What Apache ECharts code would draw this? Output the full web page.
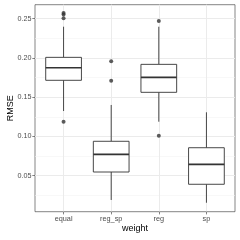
<!DOCTYPE html>
<html><head><meta charset="utf-8">
<script src="https://cdn.jsdelivr.net/npm/echarts@6/dist/echarts.min.js"></script>
<style>html,body{margin:0;padding:0;background:#fff}#c{width:240px;height:240px}</style>
</head><body><div id="c"></div>
<script>
const categories = ['equal', 'reg_sp', 'reg', 'sp'];
// [lower whisker, Q1, median, Q3, upper whisker]
const boxEqual = [0.1323, 0.1714, 0.1874, 0.2006, 0.2396];
const boxRegSp = [0.0191, 0.0547, 0.0772, 0.0938, 0.1400];
const boxReg   = [0.1187, 0.1561, 0.1752, 0.1917, 0.2396];
const boxSp    = [0.0156, 0.0391, 0.0645, 0.0856, 0.1307];
const outEqual = [0.2570, 0.2550, 0.2503, 0.1187];
const outRegSp = [0.1955, 0.1709];
const outReg   = [0.2468, 0.1009];
const outSp    = [];
const yMajorTicks = [0.05, 0.10, 0.15, 0.20, 0.25];
const yMinorTicks = [0.025, 0.075, 0.125, 0.175, 0.225];
const yRange = [0.0042, 0.2676];

const boxes = [boxEqual, boxRegSp, boxReg, boxSp];
const outs = [outEqual, outRegSp, outReg, outSp];
const boxData = boxes.map((b, i) => [i].concat(b));
const outData = [];
outs.forEach((o, i) => o.forEach(v => outData.push([i, v])));

const font = 'Liberation Sans, Arial, sans-serif';
const chart = echarts.init(document.getElementById('c'), null, {renderer: 'canvas'});
chart.setOption({
  animation: false,
  backgroundColor: '#fff',
  grid: {left: 35, right: 5, top: 4.7, bottom: 28.3, show: true, borderColor: '#333333', borderWidth: 0.6, backgroundColor: '#fff', containLabel: false, outerBoundsMode: 'none'},
  xAxis: {
    type: 'value', min: -0.6, max: 3.6,
    name: 'weight', nameLocation: 'middle', nameGap: 12, nameMoveOverlap: false,
    nameTextStyle: {color: '#000', fontSize: 9, fontFamily: font},
    axisLine: {show: false, onZero: false},
    axisTick: {show: true, customValues: [0, 1, 2, 3], length: 2.7, lineStyle: {color: '#333', width: 0.6}},
    axisLabel: {customValues: [0, 1, 2, 3], formatter: v => categories[Math.round(v)], color: '#4d4d4d', fontSize: 7.3, fontFamily: font, margin: 4},
    splitLine: {show: true, lineStyle: {color: '#ebebeb', width: 1}}
  },
  yAxis: [{
    type: 'value', min: yRange[0], max: yRange[1],
    name: 'RMSE', nameLocation: 'middle', nameGap: 20, nameRotate: 90, nameMoveOverlap: false,
    nameTextStyle: {color: '#000', fontSize: 9, fontFamily: font},
    axisLine: {show: false, onZero: false},
    axisTick: {show: true, customValues: yMajorTicks, length: 2.7, lineStyle: {color: '#333', width: 0.6}},
    axisLabel: {customValues: yMajorTicks, formatter: v => v.toFixed(2), color: '#4d4d4d', fontSize: 7.2, fontFamily: font, margin: 3.5},
    splitLine: {show: true, lineStyle: {color: '#ebebeb', width: 1}}
  }, {
    type: 'value', min: yRange[0], max: yRange[1], position: 'left',
    axisLine: {show: false, onZero: false},
    axisTick: {show: false, customValues: yMinorTicks},
    axisLabel: {show: false, customValues: yMinorTicks},
    splitLine: {show: true, lineStyle: {color: '#f4f4f4', width: 0.6}}
  }],
  series: [{
    type: 'custom',
    data: boxData,
    encode: {x: 0, y: [1, 2, 3, 4, 5]},
    z: 3,
    renderItem: function (params, api) {
      const x = api.value(0);
      const half = api.size([0.75, 0])[0] / 2;
      const pLo = api.coord([x, api.value(1)]);
      const pQ1 = api.coord([x, api.value(2)]);
      const pMed = api.coord([x, api.value(3)]);
      const pQ3 = api.coord([x, api.value(4)]);
      const pHi = api.coord([x, api.value(5)]);
      const st = {stroke: '#333333', lineWidth: 0.9, fill: null};
      return {type: 'group', children: [
        {type: 'line', shape: {x1: pHi[0], y1: pHi[1], x2: pQ3[0], y2: pQ3[1]}, style: st},
        {type: 'line', shape: {x1: pQ1[0], y1: pQ1[1], x2: pLo[0], y2: pLo[1]}, style: st},
        {type: 'rect', shape: {x: pQ3[0] - half, y: pQ3[1], width: 2 * half, height: pQ1[1] - pQ3[1]}, style: {stroke: '#333333', lineWidth: 0.9, fill: '#fff'}},
        {type: 'line', shape: {x1: pMed[0] - half, y1: pMed[1], x2: pMed[0] + half, y2: pMed[1]}, style: {stroke: '#333333', lineWidth: 1.7}}
      ]};
    }
  }, {
    type: 'scatter',
    data: outData,
    symbolSize: 4,
    z: 4,
    itemStyle: {color: '#333333'}
  }]
});
</script></body></html>
